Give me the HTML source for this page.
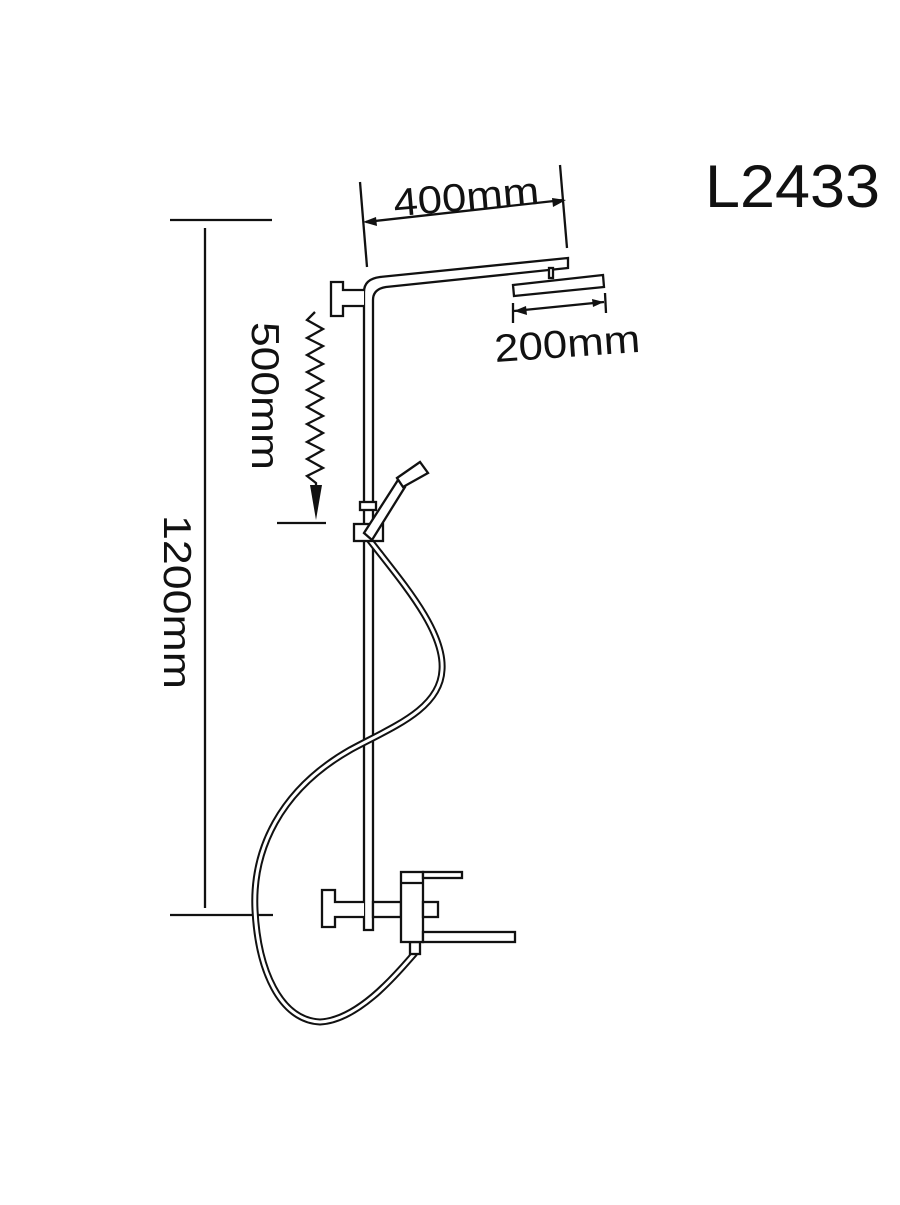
<!DOCTYPE html>
<html><head><style>html,body{margin:0;padding:0;background:#fff}</style></head>
<body>
<svg width="900" height="1200" viewBox="0 0 900 1200" xmlns="http://www.w3.org/2000/svg" font-family="Liberation Sans, Arial, sans-serif">
<rect width="900" height="1200" fill="#fff"/>
<g stroke="#111" stroke-width="2.3" fill="none">
<line x1="170" y1="220" x2="272" y2="220"/>
<line x1="170" y1="915" x2="273" y2="915"/>
<line x1="205" y1="228" x2="205" y2="908"/>
<line x1="277" y1="523" x2="326" y2="523"/>
<polyline points="315,312 307,320 323,329 307,338 323,346 307,355 323,364 307,372 323,381 307,390 323,398 307,407 323,416 307,424 323,433 307,442 323,450 307,459 323,468 307,476 316,483 316,490"/>
<line x1="360" y1="182" x2="367" y2="267"/>
<line x1="560" y1="165" x2="567" y2="248"/>
<line x1="366" y1="222" x2="563" y2="200"/>
<line x1="513" y1="303" x2="513" y2="323"/>
<line x1="605" y1="293" x2="606" y2="313"/>
<line x1="514" y1="311" x2="604" y2="302"/>
<path d="M364,930 L364,292 Q364,279 380,277 L568,258 L568,268 L386,287 Q373,289 373,300 L373,930 Z" fill="#fff"/>
<rect x="549" y="268" width="4" height="10" fill="#fff"/>
<polygon points="513,285 603,275 604,287 514,296" fill="#fff"/>
<path d="M364,290 L343,290 L343,282 L331,282 L331,316 L343,316 L343,306 L364,306" fill="#fff"/>
<path d="M368,538 C400,580 445,630 442,670 C440,710 390,728 350,750 C280,790 252,850 255,910 C258,970 280,1020 320,1022 C360,1020 400,970 415,953" stroke="#111" stroke-width="7"/>
<path d="M368,538 C400,580 445,630 442,670 C440,710 390,728 350,750 C280,790 252,850 255,910 C258,970 280,1020 320,1022 C360,1020 400,970 415,953" stroke="#fff" stroke-width="3"/>
<rect x="360" y="502" width="16" height="8" fill="#fff"/>
<rect x="354" y="524" width="29" height="17" fill="#fff"/>
<polygon points="364,533 398,480 405,487 372,540" fill="#fff"/>
<polygon points="397,478 420,462 428,473 403,487" fill="#fff"/>
<path d="M364,902 L335,902 L335,890 L322,890 L322,927 L335,927 L335,917 L364,917" fill="#fff"/>
<rect x="373" y="902" width="28" height="15" fill="#fff"/>
<rect x="410" y="942" width="10" height="12" fill="#fff"/>
<rect x="401" y="872" width="22" height="70" fill="#fff"/>
<line x1="401" y1="883" x2="423" y2="883"/>
<rect x="423" y="872" width="39" height="6" fill="#fff"/>
<rect x="423" y="902" width="15" height="15" fill="#fff"/>
<rect x="423" y="932" width="92" height="10" fill="#fff"/>
</g>
<g fill="#111">
<polygon points="363,222 376,217 377,226"/>
<polygon points="566,200 552,198 553,207"/>
<polygon points="514,311 526,306 527,315"/>
<polygon points="604,302 592,299 593,307"/>
<polygon points="310,485 322,485 316,520"/>
</g>
<g fill="#111" font-size="39">
<text x="393" y="210" textLength="146" lengthAdjust="spacingAndGlyphs" transform="rotate(-5 467 195)">400mm</text>
<text x="494" y="357" textLength="146" lengthAdjust="spacingAndGlyphs" transform="rotate(-4 567 342)">200mm</text>
<text x="-74" y="0" textLength="148" lengthAdjust="spacingAndGlyphs" transform="translate(252,396) rotate(90)">500mm</text>
<text x="-87" y="0" textLength="174" lengthAdjust="spacingAndGlyphs" transform="translate(164,602) rotate(90)">1200mm</text>
<text x="705" y="207" font-size="60" textLength="175" lengthAdjust="spacingAndGlyphs">L2433</text>
</g>
</svg>
</body></html>
